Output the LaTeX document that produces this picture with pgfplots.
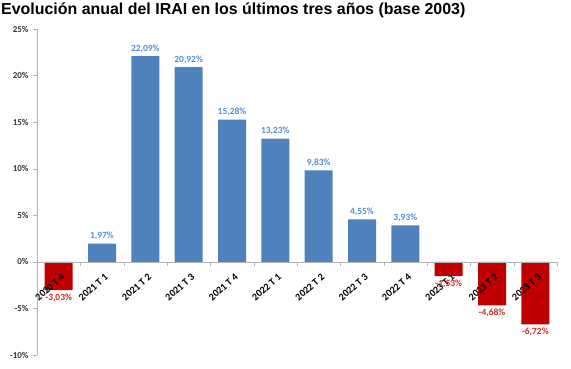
\documentclass[border=0pt]{standalone}
\usepackage{fontspec}
\setmainfont{Carlito}
\newfontfamily\titlefont{Liberation Sans}
\usepackage{pgfplots}
\pgfplotsset{compat=1.18}
\definecolor{barblue}{RGB}{79,129,189}
\definecolor{lblblue}{RGB}{85,142,213}
\definecolor{barred}{RGB}{192,0,0}
\definecolor{lblred}{RGB}{210,40,40}
\definecolor{axgray}{RGB}{180,180,180}
\begin{document}
\begin{tikzpicture}[x=1bp,y=1bp]
\useasboundingbox (0,0) rectangle (571,-368);
\node[anchor=west,inner sep=0pt] at (1,-10) {\titlefont\bfseries\fontsize{16}{18}\selectfont Evolución anual del IRAI en los últimos tres años (base 2003)};
\begin{axis}[
  at={(37bp,-29bp)}, anchor=north west,
  scale only axis, width=520bp, height=326bp,
  xmin=-0.5, xmax=11.5, ymin=-10, ymax=25,
  axis x line=middle, axis y line=left,
  axis line style={axgray,-},
  axis on top,
  hide obscured y ticks=false, hide obscured x ticks=false,
  ybar, bar width=28bp,
  xtick={0,...,11},
  xticklabels={2020 T 4,2021 T 1,2021 T 2,2021 T 3,2021 T 4,2022 T 1,2022 T 2,2022 T 3,2022 T 4,2023 T 1,2023 T 2,2023 T 3},
  major x tick style={draw=none},
  minor xtick={-0.5,0.5,...,11.5},
  minor x tick style={axgray},
  minor tick length=4bp,
  xtick align=outside,
  ytick={-10,-5,...,25},
  ytick style={axgray},
  ytick align=outside, major tick length=4bp,
  /pgf/number format/assume math mode=true,
  yticklabel={\pgfmathprintnumber{\tick}\%},
  yticklabel style={font=\bfseries\fontsize{9}{10}\selectfont, text=black!80, xshift=-1bp},
  xticklabel style={font=\bfseries\fontsize{10.2}{11}\selectfont, text=black, xshift=7bp, yshift=-7bp, rotate=42, anchor=east},
  nodes near coords={\pgfmathprintnumber[fixed,fixed zerofill,precision=2,use comma]{\pgfplotspointmeta}\%},
  every node near coord/.append style={font=\bfseries\fontsize{9.5}{11}\selectfont},
  clip=false,
]
\addplot[fill=barblue, draw=none, bar shift=0pt, every node near coord/.append style={text=lblblue}] coordinates {
 (1,1.97) (2,22.09) (3,20.92) (4,15.28) (5,13.23) (6,9.83) (7,4.55) (8,3.93)};
\addplot[fill=barred, draw=none, bar shift=0pt, every node near coord/.append style={text=lblred}] coordinates {
 (0,-3.03) (9,-1.53) (10,-4.68) (11,-6.72)};
\end{axis}
\end{tikzpicture}
\end{document}
